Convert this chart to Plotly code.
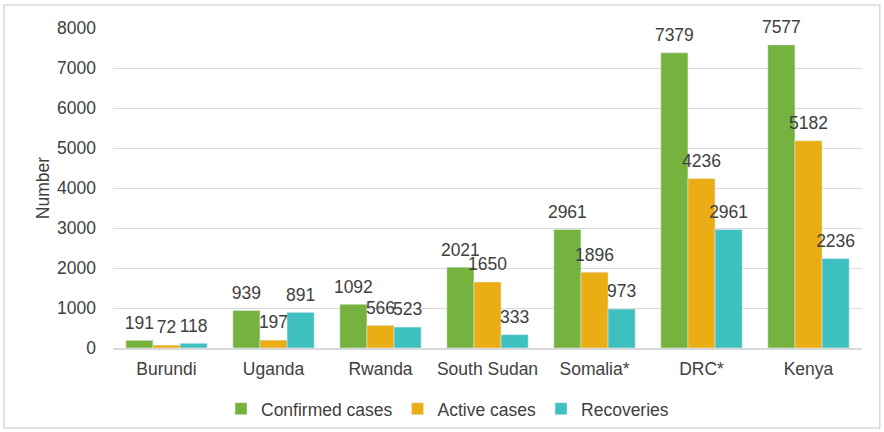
import plotly.graph_objects as go

countries = ["Burundi", "Uganda", "Rwanda", "South Sudan", "Somalia*", "DRC*", "Kenya"]
confirmed = [191, 939, 1092, 2021, 2961, 7379, 7577]
active = [72, 197, 566, 1650, 1896, 4236, 5182]
recoveries = [118, 891, 523, 333, 973, 2961, 2236]
series_names = ["Confirmed cases", "Active cases", "Recoveries"]
colors = ["#76b33e", "#eaae14", "#3fc0c0"]

font_family = "Liberation Sans, Arial, sans-serif"
text_color = "#404040"
fs = 17.5

fig = go.Figure()
for i, (name, vals, col) in enumerate(zip(series_names, [confirmed, active, recoveries], colors)):
    fig.add_trace(go.Bar(
        x=countries, y=vals, name=name, marker_color=col, offsetgroup=str(i),
    ))
for i, (name, vals) in enumerate(zip(series_names, [confirmed, active, recoveries])):
    fig.add_trace(go.Scatter(
        x=countries, y=vals, mode="markers+text", text=[str(v) for v in vals],
        textposition="top center", offsetgroup=str(i), showlegend=False,
        marker=dict(size=10, color="rgba(0,0,0,0)"), hoverinfo="skip",
        textfont=dict(size=fs, color=text_color, family=font_family), cliponaxis=False,
    ))

fig.update_layout(
    width=884, height=432,
    barmode="group", scattermode="group", bargap=0.24, bargroupgap=0, scattergap=0.24,
    paper_bgcolor="white", plot_bgcolor="white",
    margin=dict(l=113, r=22, t=28, b=84, autoexpand=False),
    font=dict(family=font_family, size=fs, color=text_color),
    legend=dict(orientation="h", x=0.4466, xanchor="center", y=-0.19, yanchor="middle",
                font=dict(size=fs, color=text_color), itemwidth=30, tracegroupgap=0),
    xaxis=dict(showgrid=False, showline=True, linecolor="#d9d9d9", linewidth=1.5,
               ticks="", tickfont=dict(size=fs, color=text_color), automargin=False,
               ticklabelstandoff=4),
    yaxis=dict(range=[0, 8000], dtick=1000, showgrid=True, gridcolor="#d9d9d9", gridwidth=1,
               zeroline=False, showline=False, ticks="", tickfont=dict(size=fs, color=text_color),
               automargin=False, ticklabelstandoff=16,
               title=dict(text="Number", font=dict(size=fs, color=text_color), standoff=2)),
    shapes=[dict(type="rect", xref="paper", yref="paper",
                 x0=-0.1455, x1=1.0237, y0=-0.25, y1=1.072,
                 line=dict(color="#d9d9d9", width=1.5), fillcolor="rgba(0,0,0,0)", layer="below")],
)

fig.write_html("out.html", post_script="document.body.style.margin='0';",
               config={"displayModeBar": False})
